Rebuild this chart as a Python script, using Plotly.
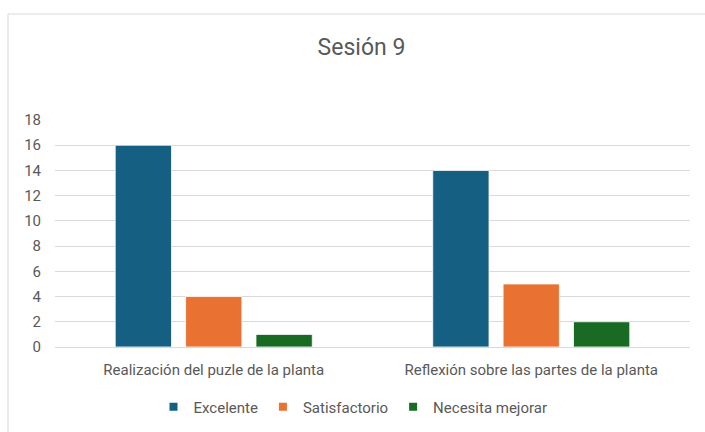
import plotly.graph_objects as go

categories = ["Realización del puzle de la planta", "Reflexión sobre las partes de la planta"]
series_names = ["Excelente", "Satisfactorio", "Necesita mejorar"]
excelente = [16, 14]
satisfactorio = [4, 5]
necesita_mejorar = [1, 2]
y_ticks = [0, 2, 4, 6, 8, 10, 12, 14, 16, 18]

colors = ["#156082", "#E97132", "#196B24"]
values = [excelente, satisfactorio, necesita_mejorar]

fig = go.Figure()
for name, vals, col in zip(series_names, values, colors):
    fig.add_trace(go.Bar(
        x=categories, y=vals, name=name, showlegend=False, legendgroup=name,
        marker=dict(color=col, line=dict(color="white", width=0.8)),
    ))
# legend entries with small square swatches
for name, col in zip(series_names, colors):
    fig.add_trace(go.Scatter(
        x=[None], y=[None], mode="markers", name=name, legendgroup=name,
        marker=dict(symbol="square", size=8, color=col),
    ))

W, H = 705, 432
L, R, T, B = 55, 15, 120, 85
pw = W - L - R
ph = H - T - B

fig.update_layout(
    width=W, height=H,
    margin=dict(l=L, r=R, t=T, b=B, autoexpand=False),
    paper_bgcolor="white", plot_bgcolor="white",
    font=dict(family="Roboto", color="#595959", size=15),
    title=dict(text="Sesión 9", x=361.5 / W, xanchor="center",
               y=1 - 46.5 / H, yanchor="middle",
               font=dict(size=23, color="#595959")),
    barmode="group", bargap=0.335, bargroupgap=0.2,
    showlegend=True,
    legend=dict(orientation="h", x=(353 - L) / pw, xanchor="center",
                y=(347 - 407) / ph, yanchor="middle",
                font=dict(size=15, color="#595959"),
                itemwidth=30, traceorder="normal", itemclick=False),
    xaxis=dict(showgrid=False, showline=True, linecolor="#d9d9d9", linewidth=1,
               ticks="", ticklabelstandoff=9, automargin=False,
               tickfont=dict(size=15, color="#595959")),
    yaxis=dict(range=[0, 18], tickvals=y_ticks, showgrid=True,
               gridcolor="#d9d9d9", gridwidth=1, zeroline=False,
               showline=False, ticks="", ticklabelstandoff=13, automargin=False,
               tickfont=dict(size=15, color="#595959")),
    shapes=[dict(type="rect", xref="paper", yref="paper",
                 x0=(8 - L) / pw, x1=(W + 10 - L) / pw,
                 y0=(347 - (H + 10)) / ph, y1=(347 - 14) / ph,
                 line=dict(color="#d9d9d9", width=1), fillcolor="rgba(0,0,0,0)",
                 layer="below")],
)

fig.write_html("out.html")
